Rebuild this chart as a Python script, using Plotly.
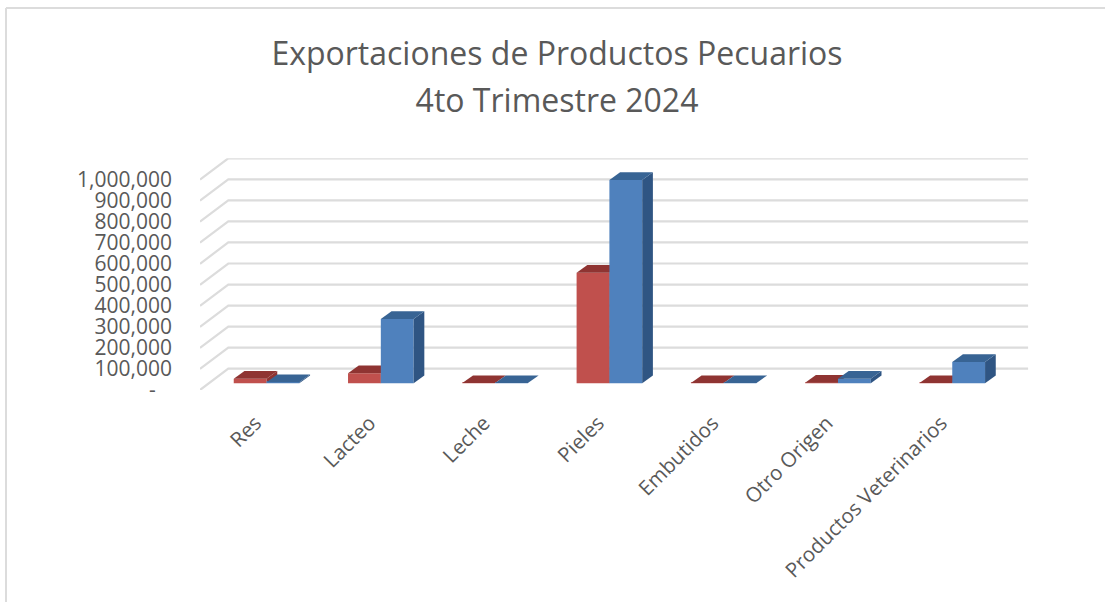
import plotly.graph_objects as go

categories = ["Res", "Lacteo", "Leche", "Pieles", "Embutidos", "Otro Origen", "Productos Veterinarios"]
serie_roja = [22000, 48000, 1000, 526000, 1000, 3000, 1000]
serie_azul = [5000, 306000, 1000, 966000, 1000, 22000, 101000]
tick_values = [0, 100000, 200000, 300000, 400000, 500000, 600000, 700000, 800000, 900000, 1000000]
tick_labels = ["-\u00a0\u00a0\u00a0", "100,000", "200,000", "300,000", "400,000", "500,000", "600,000",
               "700,000", "800,000", "900,000", "1,000,000"]

W, H = 1105, 602
PX_X = 800 / 7            # pixels per category
PX_Y = 210.4 / 1e6        # pixels per value
L, R, T, B = 200, 1028.3, 158.3, 390.0

WALL_DX, WALL_DY = 28.3 / PX_X, 21.3 / PX_Y
BAR_SHIFT_X, BAR_SHIFT_Y = 9.4 / PX_X, 6.7 / PX_Y
BAR_DX, BAR_DY = 10.7 / PX_X, 7.7 / PX_Y
BAR_W = 32.8 / PX_X

x_range = [-0.5, -0.5 + (R - L) / PX_X]
y_range = [0, (B - T) / PX_Y]

GRID = "#dcdcdc"
TEXT = "#595959"
RED, RED_TOP, RED_SIDE = "#c0504d", "#8f3432", "#8f3432"
BLUE, BLUE_TOP, BLUE_SIDE = "#4f81bd", "#386494", "#2f5583"

fig = go.Figure()

# wall and side gridlines (base layer)
for v in tick_values:
    fig.add_trace(go.Scatter(
        x=[x_range[0], x_range[0] + WALL_DX, x_range[1]],
        y=[v, v + WALL_DY, v + WALL_DY],
        mode="lines", line=dict(color=GRID, width=2.2),
        showlegend=False, hoverinfo="skip", xaxis="x", yaxis="y", cliponaxis=False))


def bar_series(values, side, front, top, right, axis):
    xa, ya = axis
    centers = [i + BAR_SHIFT_X + side * BAR_W / 2 for i in range(len(values))]
    fig.add_trace(go.Bar(
        x=centers, y=values, base=[BAR_SHIFT_Y] * len(values), width=BAR_W,
        marker=dict(color=front, line=dict(width=0)),
        showlegend=False, xaxis=xa, yaxis=ya))
    for c, v in zip(centers, values):
        x0, x1 = c - BAR_W / 2, c + BAR_W / 2
        y0, y1 = BAR_SHIFT_Y, BAR_SHIFT_Y + v
        fig.add_trace(go.Scatter(
            x=[x1, x1 + BAR_DX, x1 + BAR_DX, x1, x1], y=[y0, y0 + BAR_DY, y1 + BAR_DY, y1, y0],
            mode="lines", fill="toself", fillcolor=right, line=dict(width=0),
            showlegend=False, hoverinfo="skip", xaxis=xa, yaxis=ya))
        fig.add_trace(go.Scatter(
            x=[x0, x1, x1 + BAR_DX, x0 + BAR_DX, x0], y=[y1, y1, y1 + BAR_DY, y1 + BAR_DY, y1],
            mode="lines", fill="toself", fillcolor=top, line=dict(width=0),
            showlegend=False, hoverinfo="skip", xaxis=xa, yaxis=ya))


bar_series(serie_roja, -1, RED, RED_TOP, RED_SIDE, ("x2", "y2"))
bar_series(serie_azul, 1, BLUE, BLUE_TOP, BLUE_SIDE, ("x3", "y3"))

dom_x = [L / W, R / W]
dom_y = [1 - B / H, 1 - T / H]
hidden = dict(visible=False, fixedrange=True, automargin=False)

fig.update_layout(
    width=W, height=H,
    margin=dict(l=0, r=0, t=0, b=0, pad=0, autoexpand=False),
    paper_bgcolor="white", plot_bgcolor="rgba(0,0,0,0)",
    barmode="overlay", showlegend=False,
    font=dict(family="Open Sans", color=TEXT),
    title=dict(
        text='<span style="font-size:32px">Exportaciones de Productos Pecuarios</span><br>'
             '<span style="font-size:32px">4to Trimestre 2024</span>',
        font=dict(family="Open Sans", size=36, color=TEXT),
        x=557 / W, xanchor="center", y=1 - 65 / H, yanchor="top", automargin=False),
    xaxis=dict(domain=dom_x, range=x_range, showgrid=False, zeroline=False, showline=False,
               automargin=False, fixedrange=True,
               tickmode="array", tickvals=[i - 0.015 for i in range(len(categories))],
               ticktext=categories, tickangle=-45, ticks="", ticklabelstandoff=16,
               tickfont=dict(size=20.5, color=TEXT, family="Open Sans")),
    yaxis=dict(domain=dom_y, range=y_range, showgrid=False, zeroline=False, showline=False,
               automargin=False, fixedrange=True,
               tickmode="array", tickvals=tick_values, ticktext=tick_labels, ticks="",
               ticklabelstandoff=27,
               tickfont=dict(size=21, color=TEXT, family="Open Sans")),
    xaxis2=dict(domain=dom_x, range=x_range, overlaying="x", anchor="y2", **hidden),
    yaxis2=dict(domain=dom_y, range=y_range, overlaying="y", anchor="x2", **hidden),
    xaxis3=dict(domain=dom_x, range=x_range, overlaying="x", anchor="y3", **hidden),
    yaxis3=dict(domain=dom_y, range=y_range, overlaying="y", anchor="x3", **hidden),
    shapes=[
        dict(type="line", xref="paper", yref="paper", x0=6 / W, x1=6 / W, y0=0, y1=1 - 8 / H,
             line=dict(color=GRID, width=2)),
        dict(type="line", xref="paper", yref="paper", x0=6 / W, x1=1, y0=1 - 8 / H, y1=1 - 8 / H,
             line=dict(color=GRID, width=2)),
    ],
)

fig.write_html("out.html", config={"displayModeBar": False},
               post_script="document.body.style.margin='0';")
